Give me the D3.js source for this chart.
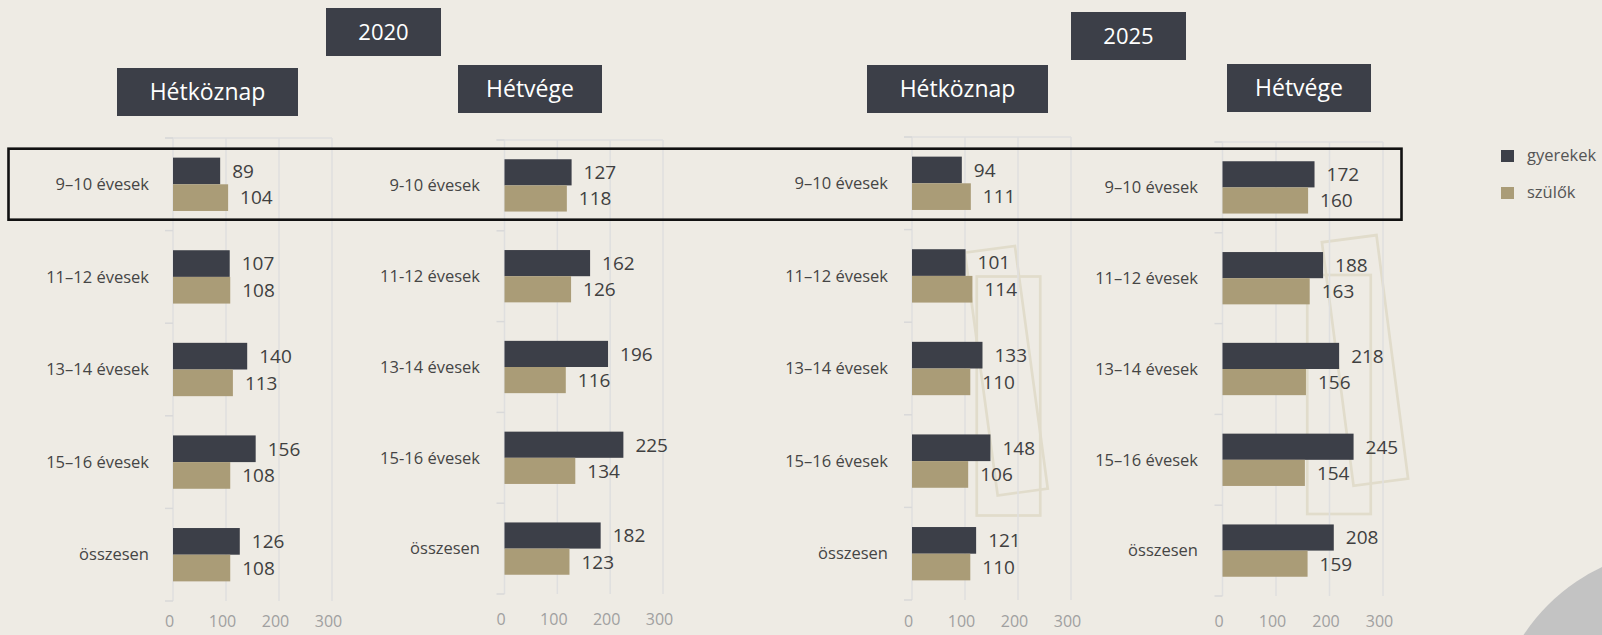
<!DOCTYPE html>
<html>
<head>
<meta charset="utf-8">
<script src="https://cdn.jsdelivr.net/npm/d3@7"></script>
<style>
  html, body { margin: 0; padding: 0; background: #eeebe4; overflow: hidden; }
  svg { display: block; font-family: "Open Sans", "Noto Sans", sans-serif; }
</style>
</head>
<body>
<script>
// chart data
var categories2020HK = ["9–10 évesek", "11–12 évesek", "13–14 évesek", "15–16 évesek", "összesen"];
var categories2020HV = ["9-10 évesek", "11-12 évesek", "13-14 évesek", "15-16 évesek", "összesen"];
var categories2025 = ["9–10 évesek", "11–12 évesek", "13–14 évesek", "15–16 évesek", "összesen"];

var kids2020HK = [89, 107, 140, 156, 126];
var parents2020HK = [104, 108, 113, 108, 108];
var kids2020HV = [127, 162, 196, 225, 182];
var parents2020HV = [118, 126, 116, 134, 123];
var kids2025HK = [94, 101, 133, 148, 121];
var parents2025HK = [111, 114, 110, 106, 110];
var kids2025HV = [172, 188, 218, 245, 208];
var parents2025HV = [160, 163, 156, 154, 159];

var xTicks = [0, 100, 200, 300];
var seriesNames = ["gyerekek", "szülők"];

var w = 1602;
var h = 635;

var dark = "#3c3f48";
var tan = "#aa9c77";

var svg = d3.select("body")
            .append("svg")
            .attr("width", w)
            .attr("height", h);

// grey circle in the corner
svg.append("circle")
    .attr("cx", 1683)
    .attr("cy", 740)
    .attr("r", 191)
    .attr("fill", "#c3c3c3");

// panel layout
var panels = [
    {cats: categories2020HK, kids: kids2020HK, parents: parents2020HK, x0: 173, x1: 332, top: 138, bottom: 601, label: 149},
    {cats: categories2020HV, kids: kids2020HV, parents: parents2020HV, x0: 504.5, x1: 663, top: 140, bottom: 594, label: 480},
    {cats: categories2025, kids: kids2025HK, parents: parents2025HK, x0: 912, x1: 1071, top: 137, bottom: 600, label: 888},
    {cats: categories2025, kids: kids2025HV, parents: parents2025HV, x0: 1222.5, x1: 1383, top: 142, bottom: 596, label: 1198}
];

// decorative outlines (behind the bars)
var deco_g = svg.append("g").attr("class", "deco");
var decoBoxes = [
    {cx: 1008.5, cy: 396, bw: 63.5, bh: 239, rot: 0},
    {cx: 1006.3, cy: 370.7, bw: 50.5, bh: 245, rot: -7.7},
    {cx: 1339, cy: 394.5, bw: 63.5, bh: 239, rot: 0},
    {cx: 1365, cy: 360.4, bw: 55, bh: 245.5, rot: -7.4}
];
deco_g.selectAll("rect")
    .data(decoBoxes)
    .enter()
    .append("rect")
    .attr("x", d => -d.bw / 2)
    .attr("y", d => -d.bh / 2)
    .attr("width", d => d.bw)
    .attr("height", d => d.bh)
    .attr("transform", d => `translate(${d.cx},${d.cy}) rotate(${d.rot})`)
    .attr("fill", "none")
    .attr("stroke", "#e1dccb")
    .attr("stroke-width", 2.7);

function draw_panel(p) {
    var g = svg.append("g").attr("class", "panel");

    var x = d3.scaleLinear().domain([0, 300]).range([p.x0, p.x1]);
    var y = d3.scaleBand().domain(p.cats).range([p.top, p.bottom]);
    var bh = y.bandwidth() * 0.288;

    // grid
    g.selectAll(".grid")
        .data(xTicks)
        .enter()
        .append("line")
        .attr("class", "grid")
        .attr("x1", d => x(d))
        .attr("x2", d => x(d))
        .attr("y1", p.top)
        .attr("y2", p.bottom)
        .attr("stroke", "#dfdfdf")
        .attr("stroke-width", 1.5);

    g.append("line")
        .attr("x1", p.x0 - 8)
        .attr("x2", x(300))
        .attr("y1", p.top)
        .attr("y2", p.top)
        .attr("stroke", "#dfdfdf")
        .attr("stroke-width", 1.5);

    var bounds = p.cats.map(c => y(c) + y.bandwidth()).concat([p.top]);
    g.selectAll(".cattick")
        .data(bounds)
        .enter()
        .append("line")
        .attr("x1", p.x0 - 8)
        .attr("x2", p.x0)
        .attr("y1", d => d)
        .attr("y2", d => d)
        .attr("stroke", "#d9d9d9")
        .attr("stroke-width", 1.5);

    // x axis labels (kept inside the page)
    var axisY = Math.min(p.bottom + 19, 615);
    var axis = g.append("g")
        .attr("transform", `translate(-4,${axisY})`)
        .call(d3.axisBottom(x).tickValues(xTicks).tickSize(0).tickPadding(0));
    axis.select(".domain").remove();
    axis.selectAll("text")
        .attr("font-family", "Open Sans")
        .attr("font-size", 16)
        .attr("fill", "#a0a0a0")
        .attr("dy", "0.75em");

    // category labels
    g.selectAll(".cat")
        .data(p.cats)
        .enter()
        .append("text")
        .attr("x", p.label)
        .attr("y", d => y(d) + y.bandwidth() / 2)
        .attr("dy", "0.35em")
        .attr("text-anchor", "end")
        .attr("font-size", 16.5)
        .attr("fill", "#454545")
        .text(d => d);

    var rows = p.cats.map((c, i) => ({cat: c, kid: p.kids[i], parent: p.parents[i]}));
    var mid = d => y(d.cat) + y.bandwidth() / 2;

    g.selectAll(".kid")
        .data(rows)
        .enter()
        .append("rect")
        .attr("x", x(0))
        .attr("y", d => mid(d) - bh)
        .attr("width", d => x(d.kid) - x(0))
        .attr("height", bh)
        .attr("fill", dark);

    g.selectAll(".parent")
        .data(rows)
        .enter()
        .append("rect")
        .attr("x", x(0))
        .attr("y", d => mid(d))
        .attr("width", d => x(d.parent) - x(0))
        .attr("height", bh)
        .attr("fill", tan);

    g.selectAll(".kidval")
        .data(rows)
        .enter()
        .append("text")
        .attr("x", d => x(d.kid) + 12)
        .attr("y", d => mid(d) - bh / 2)
        .attr("dy", "0.36em")
        .attr("font-size", 19)
        .attr("fill", "#404040")
        .text(d => d.kid);

    g.selectAll(".parentval")
        .data(rows)
        .enter()
        .append("text")
        .attr("x", d => x(d.parent) + 12)
        .attr("y", d => mid(d) + bh / 2)
        .attr("dy", "0.36em")
        .attr("font-size", 19)
        .attr("fill", "#404040")
        .text(d => d.parent);
}

panels.forEach(draw_panel);

// title boxes
var titles = [
    {t: "2020", x: 326, y: 8, bw: 115, bh: 48, fs: 22},
    {t: "Hétköznap", x: 117, y: 68, bw: 181, bh: 48, fs: 23},
    {t: "Hétvége", x: 458, y: 65, bw: 144, bh: 48, fs: 23},
    {t: "2025", x: 1071, y: 12, bw: 115, bh: 48, fs: 22},
    {t: "Hétköznap", x: 867, y: 65, bw: 181, bh: 48, fs: 23},
    {t: "Hétvége", x: 1227, y: 64, bw: 144, bh: 48, fs: 23}
];
var title_g = svg.selectAll(".title")
    .data(titles)
    .enter()
    .append("g")
    .attr("class", "title")
    .attr("transform", d => `translate(${d.x},${d.y})`);
title_g.append("rect")
    .attr("width", d => d.bw)
    .attr("height", d => d.bh)
    .attr("fill", dark);
title_g.append("text")
    .attr("x", d => d.bw / 2)
    .attr("y", d => d.bh / 2)
    .attr("dy", "0.36em")
    .attr("text-anchor", "middle")
    .attr("font-size", d => d.fs)
    .attr("fill", "#ffffff")
    .text(d => d.t);

// highlight frame around first row
svg.append("rect")
    .attr("x", 8.5)
    .attr("y", 148.7)
    .attr("width", 1393)
    .attr("height", 71)
    .attr("fill", "none")
    .attr("stroke", "#111")
    .attr("stroke-width", 2.6);

// legend
var legend = svg.append("g").attr("class", "legend");
var legendColor = d3.scaleOrdinal().domain(seriesNames).range([dark, tan]);
var legendY = d3.scalePoint().domain(seriesNames).range([156, 193]);
legend.selectAll("rect")
    .data(seriesNames)
    .enter()
    .append("rect")
    .attr("x", 1501)
    .attr("y", d => legendY(d) - 6)
    .attr("width", 13)
    .attr("height", 12)
    .attr("fill", d => legendColor(d));
legend.selectAll("text")
    .data(seriesNames)
    .enter()
    .append("text")
    .attr("x", 1527)
    .attr("y", d => legendY(d))
    .attr("dy", "0.3em")
    .attr("font-size", 16.5)
    .attr("fill", "#555")
    .text(d => d);
</script>
</body>
</html>
